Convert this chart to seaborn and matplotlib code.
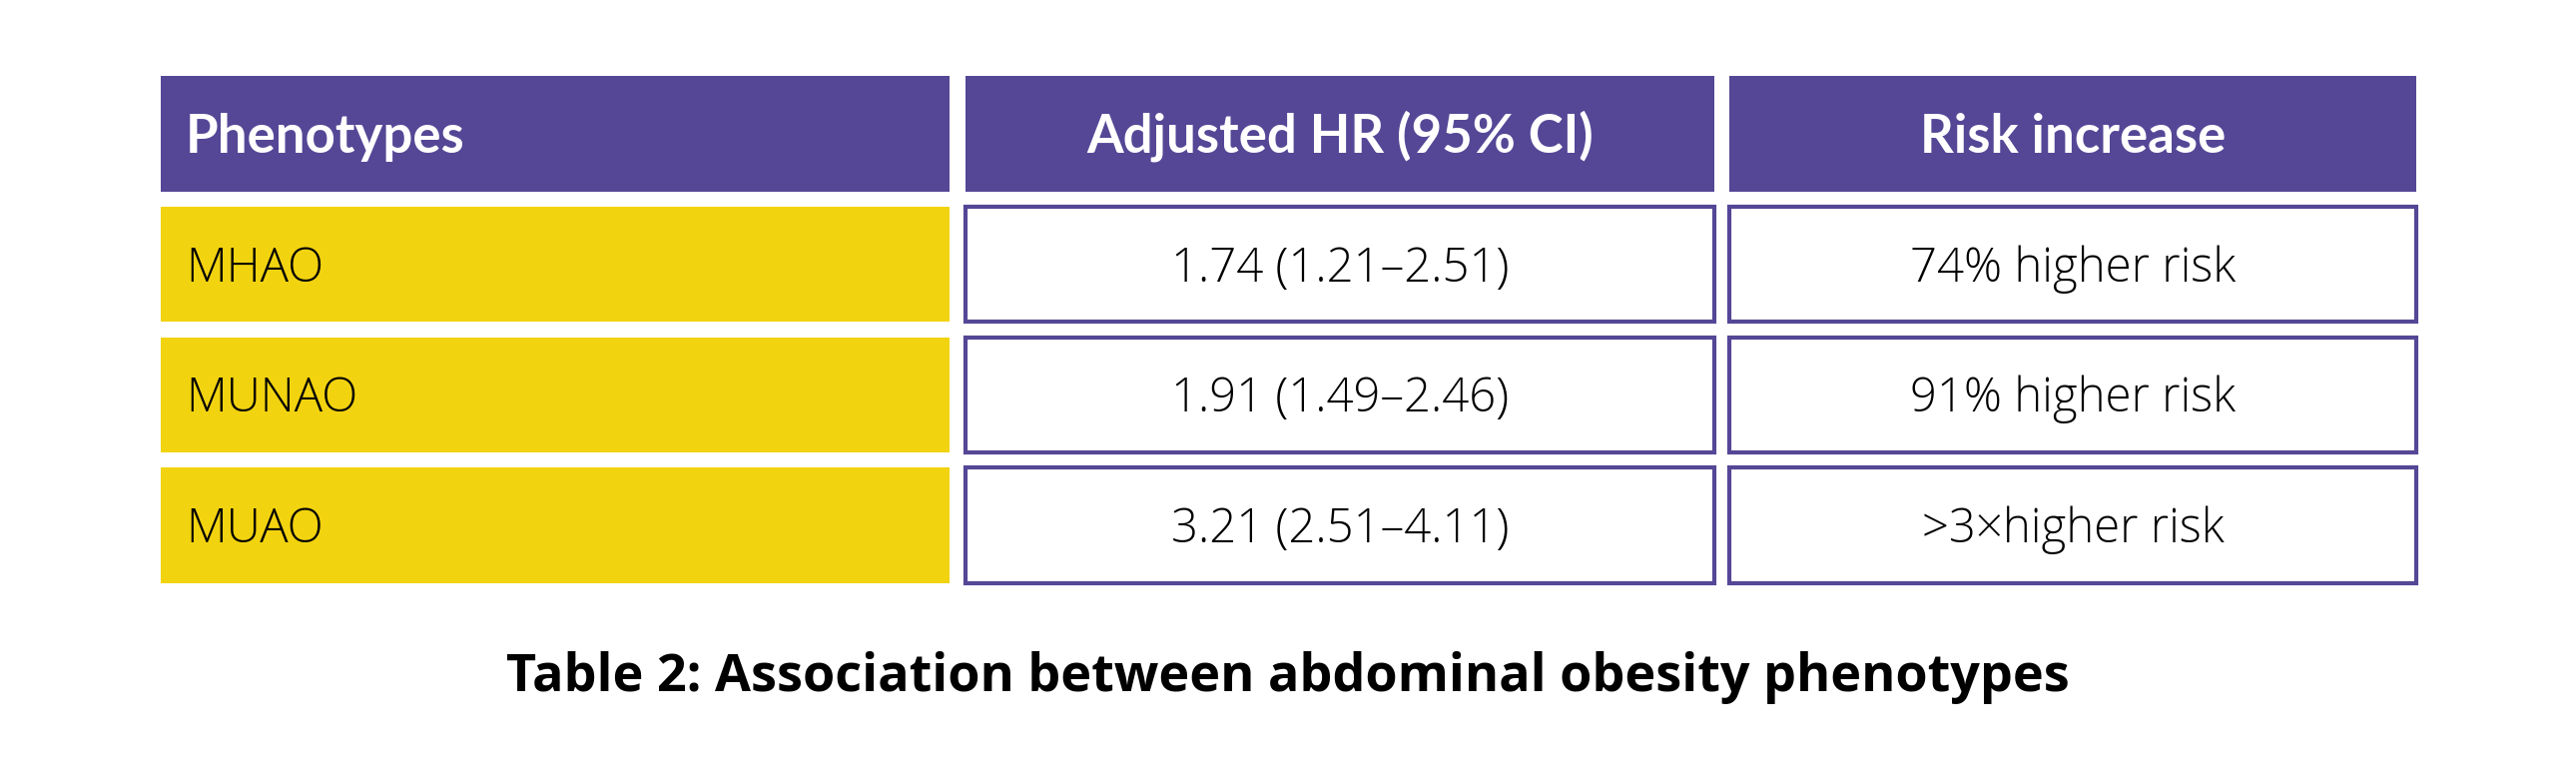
import matplotlib
matplotlib.use("Agg")
import matplotlib.pyplot as plt
from matplotlib.patches import Rectangle
import seaborn as sns

# table content
headers = ["Phenotypes", "Adjusted HR (95% CI)", "Risk increase"]
phenotypes = ["MHAO", "MUNAO", "MUAO"]
hr = [1.74, 1.91, 3.21]
ci_low = [1.21, 1.49, 2.51]
ci_high = [2.51, 2.46, 4.11]
risk_labels = ["74% higher risk", "91% higher risk", ">3\u00d7higher risk"]
title = "Table 2: Association between abdominal obesity phenotypes"

hr_labels = [f"{h:.2f} ({lo:.2f}\u2013{hi:.2f})" for h, lo, hi in zip(hr, ci_low, ci_high)]

# layout (pixels of the 2580x783 canvas)
col_edges = [(161, 951), (967, 1717), (1732, 2420)]
header_y = (76, 192)
row_y = [(207, 322), (338, 453), (468, 584)]

purple = "#554796"
yellow = "#F2D30F"

sns.set_theme(style="white")
plt.rcParams["font.family"] = ["Lato", "DejaVu Sans"]
body_font = ["Open Sans", "DejaVu Sans"]

fig = plt.figure(figsize=(25.8, 7.83), dpi=100)
ax = fig.add_axes([0, 0, 1, 1])
ax.set_xlim(0, 2580)
ax.set_ylim(783, 0)
ax.axis("off")

px = 100 / 72.0  # pixels per point


def cell_text(x, y0, y1, s, size, weight, color, ha, family=None):
    # baseline placed so the cap height sits centred in the cell
    base = (y0 + y1) / 2 + size * px * 0.36
    kw = {"family": family} if family else {}
    ax.text(x, base, s, fontsize=size, fontweight=weight, color=color,
            ha=ha, va="baseline", **kw)


# header row
for i, (x0, x1) in enumerate(col_edges):
    ax.add_patch(Rectangle((x0, header_y[0]), x1 - x0, header_y[1] - header_y[0],
                           facecolor=purple, edgecolor="none"))
    if i == 0:
        cell_text(x0 + 25, *header_y, headers[i], 38, "bold", "white", "left")
    else:
        cell_text((x0 + x1) / 2, *header_y, headers[i], 38, "bold", "white", "center")

# body rows
for r, (y0, y1) in enumerate(row_y):
    x0, x1 = col_edges[0]
    ax.add_patch(Rectangle((x0, y0), x1 - x0, y1 - y0, facecolor=yellow, edgecolor="none"))
    cell_text(x0 + 25, y0, y1, phenotypes[r], 34, "light", "black", "left", body_font)

    for c, labels in zip([1, 2], [hr_labels, risk_labels]):
        x0, x1 = col_edges[c]
        ax.add_patch(Rectangle((x0, y0), x1 - x0, y1 - y0, facecolor="white",
                               edgecolor=purple, linewidth=3.0))
        cell_text((x0 + x1) / 2, y0, y1, labels[r], 34, "light", "black", "center", body_font)

# caption
ax.text(1290, 673 + 37.5 * px * 0.36, title, fontsize=37.5, fontweight="bold",
        color="black", ha="center", va="baseline", family=["Open Sans", "DejaVu Sans"])

fig.savefig("out.png", dpi=100, facecolor="white")
